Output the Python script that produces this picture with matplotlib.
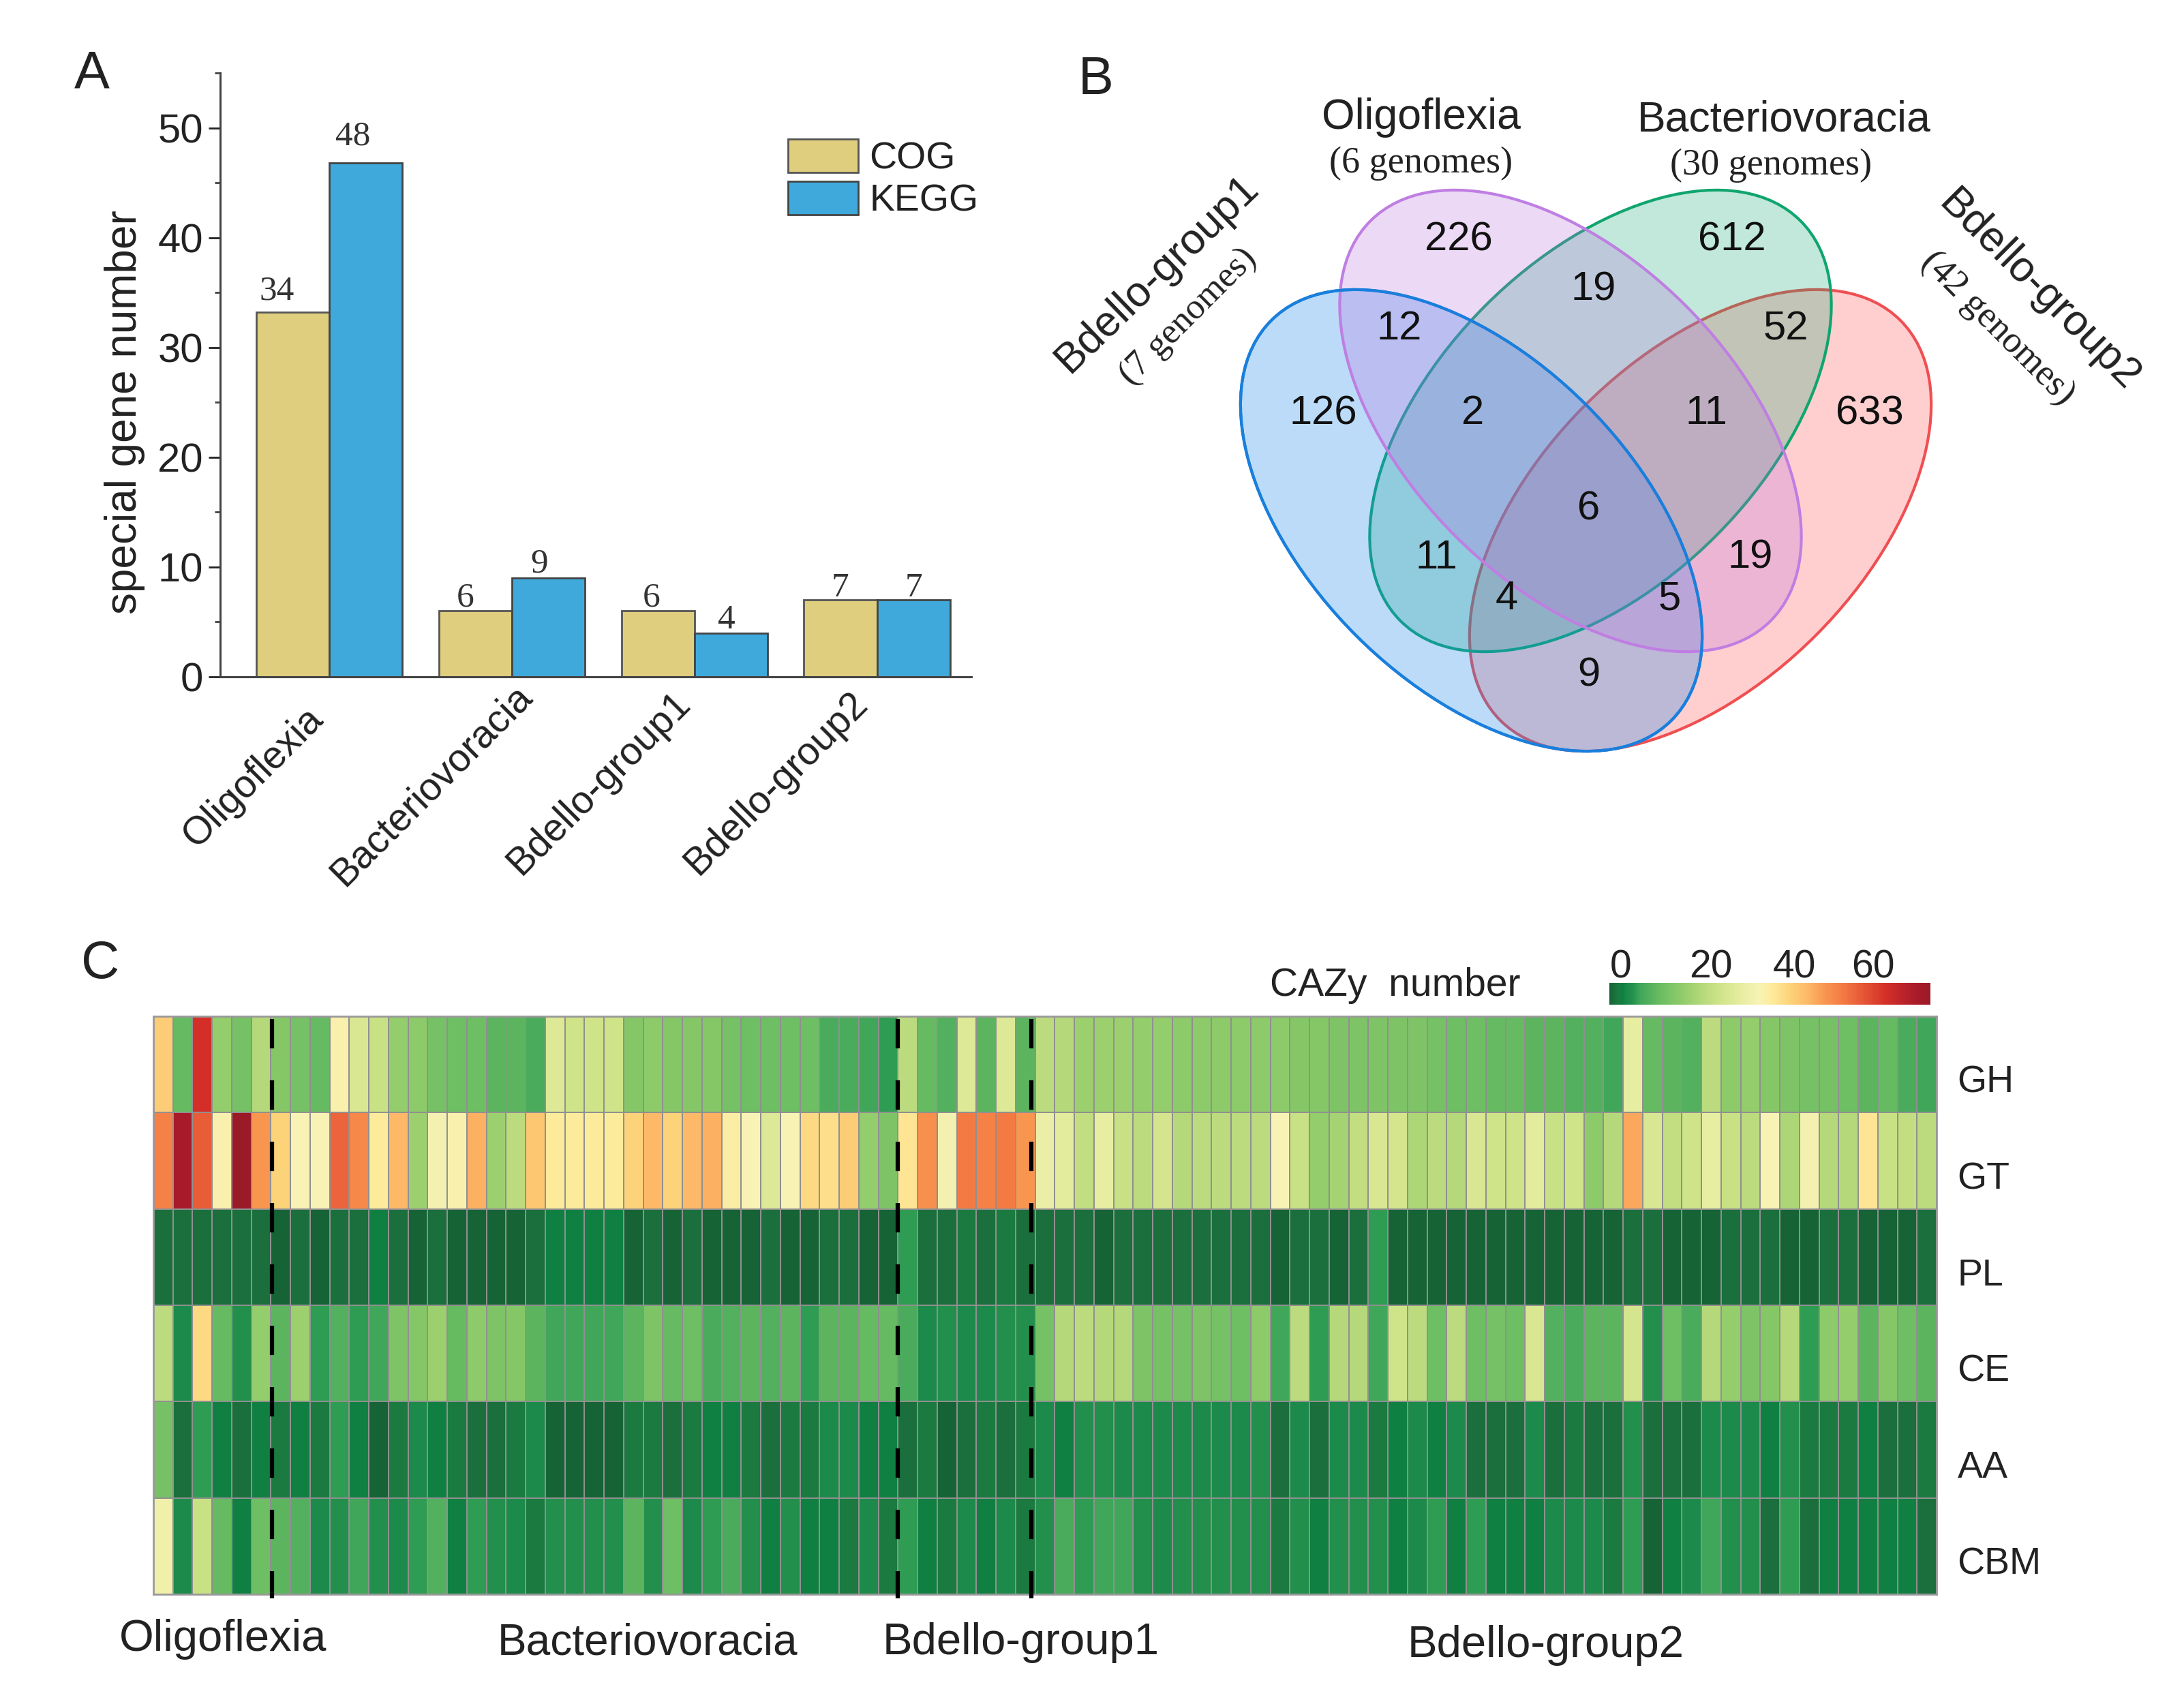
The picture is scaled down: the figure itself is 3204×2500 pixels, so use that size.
import matplotlib
matplotlib.use('Agg')
import matplotlib.pyplot as plt
from matplotlib.colors import LinearSegmentedColormap, to_rgba
from matplotlib.patches import Ellipse
from matplotlib.ticker import FixedLocator, MultipleLocator
from matplotlib.transforms import Affine2D
import numpy as np

# panel A
groups = ['Oligoflexia', 'Bacteriovoracia', 'Bdello-group1', 'Bdello-group2']
cog_height = [33.2, 6, 6, 7]
kegg_height = [46.8, 9, 4, 7]
cog_labels = ['34', '6', '6', '7']
kegg_labels = ['48', '9', '4', '7']

# panel B
venn_counts = ['126', '226', '12', '2', '19', '612', '52', '11', '633', '6', '11', '19', '4', '5', '9']

# panel C, one list per family, 91 genomes
families = ['GH', 'GT', 'PL', 'CE', 'AA', 'CBM']
gh = [42, 11, 63, 17, 13, 21,
      15, 13, 11, 35, 27, 24, 17, 16, 13, 12, 12, 10, 10, 8, 28, 25, 25, 25, 15, 16, 15, 15, 15, 13, 12, 12, 12, 12, 8, 8, 7, 6,
      22, 11, 9, 28, 10, 28, 10,
      22, 21, 18, 18, 18, 17, 17, 16, 16, 16, 16, 16, 16, 15, 15, 14,
      14, 14, 14, 14, 13, 12, 12, 11, 11, 10, 10, 9, 9, 7, 30, 11, 10, 9, 22, 16, 17, 15, 14, 13, 13, 12, 10, 11, 8, 7]
gt = [52, 70, 57, 35, 73, 49,
      41, 34, 34, 56, 51, 37, 45, 18, 33, 35, 46, 18, 22, 43, 37, 37, 37, 37, 41, 45, 41, 45, 46, 36, 34, 28, 34, 40, 39, 42, 17, 14,
      38, 50, 33, 53, 52, 53, 49,
      31, 29, 23, 30, 24, 22, 26, 21, 22, 22, 22, 22, 34, 24, 17, 19,
      23, 27, 26, 20, 22, 21, 27, 25, 25, 29, 24, 25, 16, 21, 47, 27, 23, 25, 30, 24, 22, 34, 20, 33, 21, 21, 38, 24, 23, 22]
pl = [1, 1, 1, 1, 1, 1,
      0, 1, 0, 1, 1, 3, 1, 0, 1, 0, 0, 0, 0, 1, 3, 3, 3, 3, 0, 1, 0, 1, 0, 0, 0, 1, 0, 0, 1, 1, 0, 0,
      6, 1, 1, 2, 1, 2, 1,
      1, 1, 1, 0, 1, 1, 1, 1, 1, 1, 1, 1, 0, 1, 1, 0,
      1, 6, 0, 0, 0, 0, 0, 0, 0, 0, 0, 0, 0, 0, 1, 1, 0, 0, 0, 1, 1, 1, 0, 0, 1, 1, 0, 0, 0, 1]
ce = [22, 4, 40, 11, 5, 17,
      10, 18, 6, 9, 6, 7, 14, 15, 18, 11, 16, 14, 15, 10, 7, 7, 7, 7, 10, 14, 11, 12, 8, 9, 10, 9, 10, 6, 10, 10, 11, 11,
      8, 4, 5, 4, 4, 5, 5,
      13, 21, 22, 21, 21, 14, 13, 13, 14, 13, 12, 16, 7, 22, 6, 21,
      21, 7, 25, 22, 12, 22, 12, 13, 12, 27, 9, 8, 10, 10, 26, 5, 12, 8, 21, 17, 14, 15, 21, 6, 16, 17, 10, 15, 12, 10]
aa = [13, 1, 6, 3, 1, 3,
      2, 3, 2, 6, 3, 0, 2, 4, 3, 2, 1, 1, 2, 4, 0, 0, 0, 0, 2, 2, 1, 2, 3, 3, 2, 1, 2, 2, 4, 4, 3, 3,
      1, 2, 0, 1, 2, 1, 2,
      4, 3, 5, 5, 4, 4, 4, 4, 4, 4, 4, 5, 1, 4, 1, 4,
      4, 2, 3, 4, 3, 4, 1, 1, 1, 4, 1, 2, 1, 1, 5, 1, 1, 1, 4, 4, 4, 3, 5, 2, 2, 2, 3, 1, 1, 2]
cbm = [32, 4, 24, 11, 3, 12,
       10, 9, 4, 5, 7, 5, 4, 6, 9, 3, 6, 5, 4, 2, 5, 5, 5, 5, 10, 5, 12, 4, 6, 8, 5, 3, 5, 3, 3, 2, 4, 2,
       6, 3, 2, 4, 3, 4, 2,
       5, 8, 6, 7, 7, 5, 4, 5, 5, 5, 5, 5, 2, 5, 3, 5,
       5, 5, 3, 4, 6, 3, 6, 3, 3, 3, 4, 4, 4, 2, 6, 0, 3, 4, 7, 5, 5, 1, 6, 1, 3, 3, 3, 3, 3, 1]
group_sizes = [6, 32, 7, 46]
cbar_labels = ['0', '20', '40', '60']
cbar_ticks = [2.5, 23, 42, 60]

W, H = 3204, 2500
fig = plt.figure(figsize=(W / 100, H / 100), dpi=100)
plt.rcParams['font.family'] = ['Liberation Sans', 'DejaVu Sans']
SERIF = ['Liberation Serif', 'DejaVu Serif']
INK = '#222222'


def px_axes(x0, y0, x1, y1):
    return fig.add_axes([x0 / W, 1 - y1 / H, (x1 - x0) / W, (y1 - y0) / H])


# A: bars
ax = px_axes(323, 107, 1425, 993)
x = np.arange(1, 5)
bw = 0.4
ax.bar(x - bw / 2, cog_height, bw, color='#dfce7e', edgecolor='#555555', linewidth=2, label='COG')
ax.bar(x + bw / 2, kegg_height, bw, color='#3fa9dc', edgecolor='#444444', linewidth=2, label='KEGG')
ax.set_xlim(0.403, 4.517)
ax.set_ylim(0, 55)
for s in ['top', 'right']:
    ax.spines[s].set_visible(False)
for s in ['left', 'bottom']:
    ax.spines[s].set_color('#444444')
    ax.spines[s].set_linewidth(2.2)
ax.yaxis.set_major_locator(MultipleLocator(10))
ax.yaxis.set_minor_locator(MultipleLocator(5))
ax.tick_params(axis='y', which='major', length=12, width=2, labelsize=43, pad=6, colors=INK)
ax.tick_params(axis='y', which='minor', length=6, width=2, color='#444444')
ax.set_xticks(x)
ax.set_xticklabels(groups, rotation=45, ha='right', rotation_mode='anchor', fontsize=41, color=INK)
ax.tick_params(axis='x', length=0, pad=28)
# the rotated labels are not evenly placed in the original
label_nudge = [(-37, 4), (2, 37), (-33, 27), (-41, 27)]
for lab, (dx, dy) in zip(ax.get_xticklabels(), label_nudge):
    lab.set_transform(lab.get_transform() + Affine2D().translate(dx, dy))
ax.set_ylabel('special gene number', fontsize=46, color=INK)
ax.yaxis.set_label_coords(-0.1, 0.438)

# the value labels sit left of the bar centres in the original
cog_shift = [(-23, 8), (-15, -4), (-9, -4), (0, -6)]
kegg_shift = [(-19, 16), (-13, -2), (-6, -4), (0, -6)]
for i in range(4):
    ax.annotate(cog_labels[i], (x[i] - bw / 2, cog_height[i]), xytext=cog_shift[i], textcoords='offset pixels',
                ha='center', va='bottom', fontsize=37, family=SERIF, color='#333333')
    ax.annotate(kegg_labels[i], (x[i] + bw / 2, kegg_height[i]), xytext=kegg_shift[i], textcoords='offset pixels',
                ha='center', va='bottom', fontsize=37, family=SERIF, color='#333333')

ax.legend(loc='upper left', bbox_to_anchor=(1156 / W, 1 - 204 / H), bbox_transform=fig.transFigure,
          frameon=False, fontsize=40, handlelength=1.85, handleheight=0.98, handletextpad=0.3,
          labelspacing=0.12, borderpad=0, borderaxespad=0, labelcolor=INK)

# C: heatmap
color_stops = [(0, '#166336'), (1, '#1a6f3c'), (2, '#1a7a40'), (3, '#108042'), (4, '#1c8a4a'), (5, '#228f4c'),
               (6, '#2e9c52'), (7, '#40a75a'), (8, '#4aab5c'), (10, '#5cb45f'), (11, '#66ba62'), (13, '#76c165'),
               (15, '#85c767'), (17, '#94cd6b'), (21, '#b5d97a'), (25, '#cfe388'), (29, '#e3eb9c'), (34, '#f8f3b5'),
               (37, '#fdeb9c'), (41, '#fdd37a'), (45, '#fdb968'), (49, '#f89650'), (53, '#f47a44'), (57, '#e85c38'),
               (63, '#d32f28'), (70, '#a81a2a'), (73, '#9b1a28')]
cmap = LinearSegmentedColormap.from_list('cazy', [(v / 73, c) for v, c in color_stops], N=512)

hm = px_axes(225, 1491, 2841, 2339)
matrix = np.array([gh, gt, pl, ce, aa, cbm])
mesh = hm.pcolormesh(matrix, cmap=cmap, vmin=0, vmax=73, edgecolors='#909090', linewidth=1.2)
for s in hm.spines.values():
    s.set_color('#999999')
    s.set_linewidth(2)
hm.set_xticks([])
hm.yaxis.tick_right()
hm.set_yticks(np.arange(6) + 0.65)
hm.set_yticklabels(families, fontsize=40, color=INK)
hm.tick_params(axis='y', length=0, pad=22)
# hand-drawn in the original, so not quite on the cell borders
dash_offset = [0.05, 0, -0.2]
for b, off in zip(np.cumsum(group_sizes)[:3], dash_offset):
    hm.plot([b + off, b + off], [0.03, 6.04], color='black', lw=4.5, ls=(0, (6.9, 7.5)), clip_on=False, zorder=5)
hm.set_xlim(0, matrix.shape[1])
hm.set_ylim(6, 0)

cax = px_axes(2361, 1442, 2832, 1474)
cb = fig.colorbar(mesh, cax=cax, orientation='horizontal')
cb.outline.set_visible(False)
cax.xaxis.set_ticks_position('top')
cax.xaxis.set_major_locator(FixedLocator(cbar_ticks))
cax.set_xticklabels(cbar_labels, fontsize=41, color=INK)
cax.tick_params(axis='x', length=0, pad=-3)

# overlay in image pixels for the venn and free text
ov = fig.add_axes([0, 0, 1, 1], zorder=-1)
ov.set_xlim(0, W)
ov.set_ylim(H, 0)
ov.axis('off')

# fills back to front, purple last keeps the overlaps from going too blue
red = ((2494.5, 763.5), -45, '#ff4040', '#f04f52', 0.25)
green = ((2348, 617.5), -45, '#10a870', '#0fa56e', 0.26)
blue = ((2158.5, 763.5), 45, '#1f88e8', '#1a7fdc', 0.30)
purple = ((2304, 617.5), 45, '#b86ee0', '#bf7ee2', 0.26)
for c, ang, fc, ec, a in [red, green, blue, purple]:
    ov.add_patch(Ellipse(c, 830, 478, angle=ang, facecolor=to_rgba(fc, a), edgecolor=ec, linewidth=3))
c, ang, fc, ec, a = blue
ov.add_patch(Ellipse(c, 830, 478, angle=ang, facecolor='none', edgecolor=ec, linewidth=3))

venn_xy = [(1941, 607), (2140, 352), (2053, 483), (2161, 607), (2338, 425), (2541, 352), (2620, 483), (2503, 607),
           (2743, 607), (2331, 747), (2107, 818), (2568, 818), (2210, 879), (2449, 879), (2331, 991)]
for (tx, ty), n in zip(venn_xy, venn_counts):
    ov.text(tx, ty, n, fontsize=43, ha='center', va='center', color='#111111')

ov.text(2085, 173, 'Oligoflexia', fontsize=45, ha='center', va='center', color=INK)
ov.text(2085, 240, '(6 genomes)', fontsize=39, ha='center', va='center', color=INK, family=SERIF)
ov.text(2617, 176, 'Bacteriovoracia', fontsize=45, ha='center', va='center', color=INK)
ov.text(2598, 243, '(30 genomes)', fontsize=39, ha='center', va='center', color=INK, family=SERIF)
ov.text(1697, 402, 'Bdello-group1', fontsize=45, ha='center', va='center', rotation=44, color=INK, rotation_mode='anchor')
ov.text(1744, 465, '(7 genomes)', fontsize=38, ha='center', va='center', rotation=45, color=INK, family=SERIF, rotation_mode='anchor')
ov.text(2991, 427, 'Bdello-group2', fontsize=45, ha='center', va='center', rotation=-45, color=INK, rotation_mode='anchor')
ov.text(2931, 482, '(42 genomes)', fontsize=39, ha='center', va='center', rotation=-45, color=INK, family=SERIF, rotation_mode='anchor')

ov.text(135, 109, 'A', fontsize=56, ha='center', va='center', color=INK)
ov.text(1608, 117, 'B', fontsize=56, ha='center', va='center', color=INK)
ov.text(147, 1414, 'C', fontsize=56, ha='center', va='center', color=INK)

ov.text(2047, 1446, 'CAZy  number', fontsize=41, ha='center', va='center', color=INK)
ov.text(327, 2405, groups[0], fontsize=47, ha='center', va='center', color=INK)
ov.text(950, 2410, groups[1], fontsize=46, ha='center', va='center', color=INK)
ov.text(1498, 2410, groups[2], fontsize=47, ha='center', va='center', color=INK)
ov.text(2268, 2414, groups[3], fontsize=47, ha='center', va='center', color=INK)

fig.savefig('out.png', dpi=100)
